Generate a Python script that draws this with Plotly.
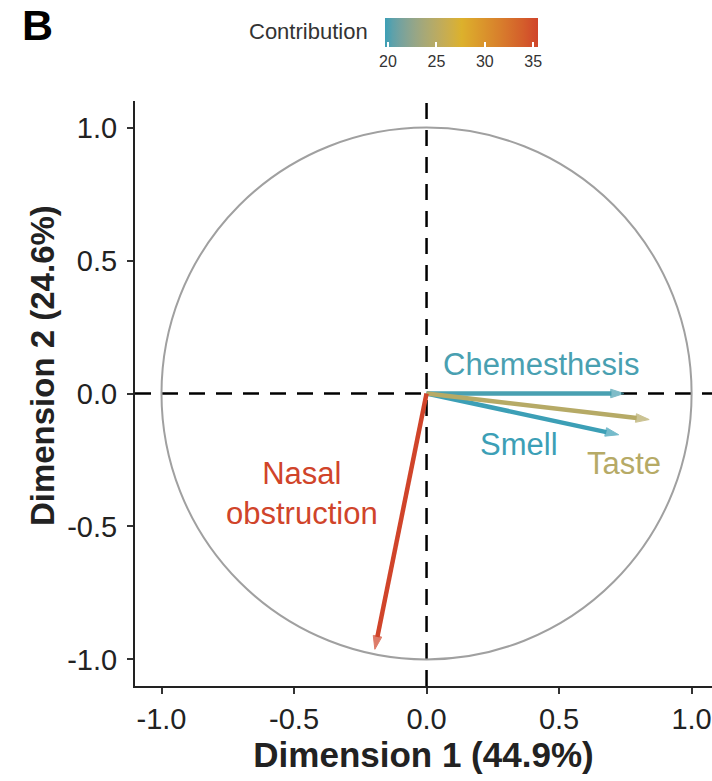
import plotly.graph_objects as go
from plotly.colors import sample_colorscale
import numpy as np

# ---- data ----
variables = ["Chemesthesis", "Smell", "Taste", "Nasal obstruction"]
dim1 = [0.745, 0.725, 0.84, -0.195]
dim2 = [0.0, -0.155, -0.098, -0.962]
contrib = [20.0, 19.7, 24.8, 35.5]
label_text = ["Chemesthesis", "Smell", "Taste", "Nasal<br>obstruction"]
label_x = [0.43, 0.35, 0.745, -0.47]
label_y = [0.11, -0.19, -0.265, -0.375]
tick_vals = [-1.0, -0.5, 0.0, 0.5, 1.0]
tick_text = ["-1.0", "-0.5", "0.0", "0.5", "1.0"]
cbar_ticks = [20, 25, 30, 35]
gradient_cols = ["#3c9fb6", "#dcb12c", "#d0442a"]

# ---- CIELAB interpolated colour scale (like ggplot's gradientn) ----
M = np.array([[0.4124, 0.3576, 0.1805], [0.2126, 0.7152, 0.0722], [0.0193, 0.1192, 0.9505]])
WP = np.array([0.95047, 1.0, 1.08883])


def hex2lab(h):
    c = np.array([int(h[i:i + 2], 16) for i in (1, 3, 5)]) / 255.0
    lin = np.where(c <= 0.04045, c / 12.92, ((c + 0.055) / 1.055) ** 2.4)
    xyz = M @ lin / WP
    f = np.where(xyz > 0.008856, np.cbrt(xyz), 7.787 * xyz + 16 / 116)
    return np.array([116 * f[1] - 16, 500 * (f[0] - f[1]), 200 * (f[1] - f[2])])


def lab2hex(lab):
    fy = (lab[0] + 16) / 116
    fx = fy + lab[1] / 500
    fz = fy - lab[2] / 200
    f = np.array([fx, fy, fz])
    xyz = np.where(f ** 3 > 0.008856, f ** 3, (f - 16 / 116) / 7.787) * WP
    lin = np.linalg.solve(M, xyz)
    lin = np.clip(lin, 0, 1)
    c = np.where(lin <= 0.0031308, 12.92 * lin, 1.055 * lin ** (1 / 2.4) - 0.055)
    c = np.clip(np.round(c * 255), 0, 255).astype(int)
    return "#%02x%02x%02x" % tuple(c)


labs = [hex2lab(h) for h in gradient_cols]
colorscale = []
n = 20
for i in range(n + 1):
    t = i / n
    seg = min(int(t * 2), 1)
    u = t * 2 - seg
    lab = labs[seg] * (1 - u) + labs[seg + 1] * u
    colorscale.append([t, lab2hex(lab)])

cmin, cmax = min(contrib), max(contrib)
arrow_cols = [sample_colorscale(colorscale, [(c - cmin) / (cmax - cmin)])[0] for c in contrib]

fig = go.Figure()

for i, v in enumerate(variables):
    fig.add_trace(go.Scatter(
        x=[0, dim1[i]], y=[0, dim2[i]], mode="lines+markers",
        line=dict(color=arrow_cols[i], width=4.5),
        marker=dict(symbol="arrow", angleref="previous", size=[0, 14],
                    color=[contrib[i], contrib[i]], colorscale=colorscale,
                    cmin=cmin, cmax=cmax, standoff=0,
                    showscale=(i == 0),
                    colorbar=dict(orientation="h", lenmode="pixels", len=153,
                                  thickness=29, x=0.566, xanchor="center",
                                  y=1.142, yanchor="top", outlinewidth=0,
                                  tickvals=cbar_ticks, ticks="inside", ticklen=5,
                                  tickcolor="white", tickwidth=1.5,
                                  tickfont=dict(size=16, color="#333"),
                                  ypad=0, xpad=0)),
        showlegend=False, hoverinfo="skip"))

for i, v in enumerate(variables):
    fig.add_annotation(x=label_x[i], y=label_y[i], text=label_text[i], showarrow=False,
                       font=dict(size=31, color=arrow_cols[i]),
                       xanchor="center", yanchor="middle")

# unit circle and dashed reference lines
fig.add_shape(type="circle", xref="x", yref="y", x0=-1, x1=1, y0=-1, y1=1,
              line=dict(color="#a0a0a0", width=2), layer="below")
fig.add_shape(type="line", xref="x", yref="paper", x0=0, x1=0, y0=0, y1=1,
              line=dict(color="black", width=2.5, dash="16px,11px"), layer="below")
fig.add_shape(type="line", xref="paper", yref="y", x0=0, x1=1, y0=0, y1=0,
              line=dict(color="black", width=2.5, dash="16px,11px"), layer="below")

fig.add_annotation(text="Contribution", xref="paper", yref="paper", x=0.407, y=1.118,
                   xanchor="right", yanchor="middle", showarrow=False,
                   font=dict(size=22, color="#333"))
fig.add_annotation(text="<b>B</b>", xref="paper", yref="paper", x=-0.2,
                   y=1.13, xanchor="left", yanchor="middle", showarrow=False,
                   font=dict(size=43, color="black"))
# y-axis title (placed as in the reference, slightly above the panel centre)
fig.add_annotation(text="<b>Dimension 2 (24.6%)</b>", xref="paper", yref="paper",
                   x=-0.161, y=0.547, xanchor="center", yanchor="middle",
                   textangle=-90, showarrow=False, font=dict(size=33, color="#222"))

axis_common = dict(tickvals=tick_vals, ticktext=tick_text, ticks="outside", ticklen=6,
                   tickwidth=2, tickcolor="#333", showline=True, linecolor="#222",
                   linewidth=2, showgrid=False, zeroline=False, automargin=False,
                   ticklabeloverflow="allow",
                   tickfont=dict(size=29, color="#222"))

fig.update_layout(
    width=712, height=781,
    margin=dict(l=135, r=0, t=101, b=95, pad=0),
    paper_bgcolor="white", plot_bgcolor="white",
    font=dict(family="Liberation Sans, Arial, sans-serif"),
    xaxis=dict(range=[-1.1, 1.077], title=dict(text="<b>Dimension 1 (44.9%)</b>",
               font=dict(size=35, color="#222"), standoff=9), **axis_common),
    yaxis=dict(range=[-1.1, 1.1], ticklabelstandoff=4, **axis_common),
)

fig.write_html("out.html", config={"displayModeBar": False},
               post_script="document.body.style.margin='0';document.body.style.overflow='hidden';")
